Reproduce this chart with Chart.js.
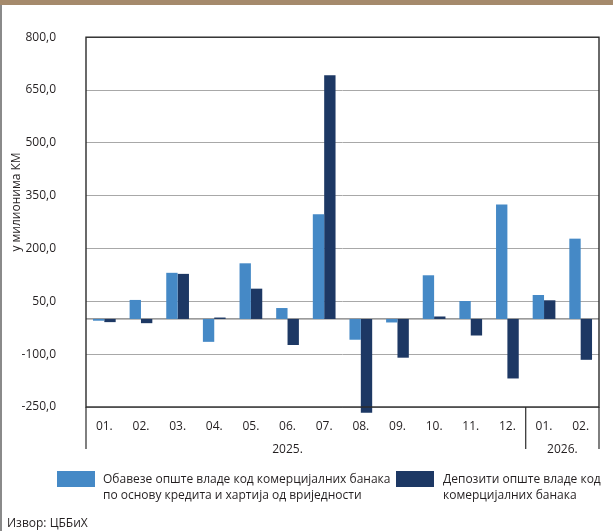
<!DOCTYPE html>
<html>
<head>
<meta charset="utf-8">
<script src="https://cdn.jsdelivr.net/npm/chart.js@4.4.1/dist/chart.umd.min.js"></script>
<style>
  html, body { margin: 0; padding: 0; background: #fff; }
  #wrap { position: relative; width: 613px; height: 531px; overflow: hidden; font-family: "Open Sans", "Noto Sans", sans-serif; color: #231f20; }
  canvas { position: absolute; left: 0; top: 0; }
  .band { position: absolute; left: 0; top: 0; width: 613px; height: 5px; background: #a58a6c; }
  .lline { position: absolute; left: 0; top: 5px; width: 2px; height: 526px; background: #8a8a8a; }
  .ytitle { position: absolute; left: -84px; top: 194px; width: 200px; height: 16px; line-height: 16px; text-align: center; font-size: 12px; transform: rotate(-90deg); white-space: nowrap; }
  .leg { position: absolute; font-size: 12px; line-height: 16px; white-space: nowrap; }
  .sw { position: absolute; width: 38px; height: 16px; }
  .src { position: absolute; left: 7px; top: 515px; font-size: 12px; line-height: 16px; }
</style>
</head>
<body>
<div id="wrap">
  <canvas id="c" width="613" height="531"></canvas>
  <div class="band"></div>
  <div class="lline"></div>
  <div class="ytitle" id="ytitle"></div>
  <div class="sw" id="sw1" style="left:57px; top:471px;"></div>
  <div class="leg" id="leg1" style="left:103px; top:471px;"></div>
  <div class="sw" id="sw2" style="left:396px; top:471px;"></div>
  <div class="leg" id="leg2" style="left:443px; top:471px;"></div>
  <div class="src" id="src"></div>
</div>
<script>
// ---- data ----
const months = ["01.", "02.", "03.", "04.", "05.", "06.", "07.", "08.", "09.", "10.", "11.", "12.", "01.", "02."];
const yearLabels = ["2025.", "2026."];
const seriesNames = [
  ["Обавезе опште владе код комерцијалних банака", "по основу кредита и хартија од вриједности"],
  ["Депозити опште владе код", "комерцијалних банака"]
];
const obligations = [-5, 54, 131, -65, 158, 31, 297, -59, -10, 124, 51, 325, 68, 228];
const deposits = [-9, -12, 128, 4, 86, -74, 692, -266, -110, 7, -47, -169, 53, -116];
const yTicks = [-250, -100, 50, 200, 350, 500, 650, 800];
const yTitle = "у милионима КМ";
const sourceText = "Извор: ЦББиХ";

const lightBlue = "#4589c6";
const darkBlue = "#1d3864";

document.getElementById("ytitle").textContent = yTitle;
document.getElementById("leg1").innerHTML = seriesNames[0].join("<br>");
document.getElementById("leg2").innerHTML = seriesNames[1].join("<br>");
document.getElementById("sw1").style.background = lightBlue;
document.getElementById("sw2").style.background = darkBlue;
document.getElementById("src").textContent = sourceText;

const FONT = "'Open Sans', 'Noto Sans', sans-serif";

const decor = {
  id: "decor",
  beforeDatasetsDraw(chart) {
    const { ctx, chartArea: a, scales: { y } } = chart;
    const y0 = y.getPixelForValue(0);
    ctx.save();
    ctx.strokeStyle = "#7a7a7a";
    ctx.lineWidth = 1.2;
    ctx.beginPath();
    ctx.moveTo(a.left, y0);
    ctx.lineTo(a.right, y0);
    ctx.stroke();
    ctx.restore();
  },
  afterDraw(chart) {
    const { ctx, chartArea: a, scales: { x } } = chart;
    ctx.save();
    ctx.strokeStyle = "#2b2b2b";
    ctx.lineWidth = 1.4;
    ctx.strokeRect(a.left, a.top, a.right - a.left, a.bottom - a.top);
    // year separators
    const half = (x.getPixelForValue(1) - x.getPixelForValue(0)) / 2;
    const seps = [x.getPixelForValue(0) - half, x.getPixelForValue(11) + half, x.getPixelForValue(13) + half];
    ctx.lineWidth = 1.2;
    seps.forEach(px => {
      ctx.beginPath();
      ctx.moveTo(px, a.bottom);
      ctx.lineTo(px, 449);
      ctx.stroke();
    });
    ctx.fillStyle = "#231f20";
    ctx.font = "12px " + FONT;
    ctx.textAlign = "center";
    ctx.textBaseline = "middle";
    ctx.fillText(yearLabels[0], x.getPixelForValue(5), 450);
    ctx.fillText(yearLabels[1], (x.getPixelForValue(12) + x.getPixelForValue(13)) / 2, 450);
    ctx.restore();
  }
};

new Chart(document.getElementById("c"), {
  type: "bar",
  data: {
    labels: months,
    datasets: [
      { label: seriesNames[0].join(" "), data: obligations, backgroundColor: lightBlue, clip: false,
        categoryPercentage: 0.62, barPercentage: 1.0 },
      { label: seriesNames[1].join(" "), data: deposits, backgroundColor: darkBlue, clip: false,
        categoryPercentage: 0.62, barPercentage: 1.0 }
    ]
  },
  options: {
    responsive: false,
    animation: false,
    devicePixelRatio: 1,
    layout: { padding: { left: 0, right: 14, top: 25.4, bottom: 0 } },
    plugins: { legend: { display: false }, tooltip: { enabled: false } },
    scales: {
      x: {
        grid: { display: false, drawTicks: false },
        border: { display: false },
        ticks: { color: "#231f20", font: { family: FONT, size: 12 }, padding: 12, maxRotation: 0, autoSkip: false },
        afterFit(s) { s.height = 124; }
      },
      y: {
        min: -250, max: 800,
        afterBuildTicks(s) { s.ticks = yTicks.map(v => ({ value: v })); },
        grid: { color: "#a8a8a8", lineWidth: 1, drawTicks: false },
        border: { display: false },
        ticks: {
          color: "#231f20", font: { family: FONT, size: 12 }, padding: 30,
          callback: v => v.toFixed(1).replace(".", ",")
        },
        afterFit(s) { s.width = 86; }
      }
    }
  },
  plugins: [decor]
});
</script>
</body>
</html>
